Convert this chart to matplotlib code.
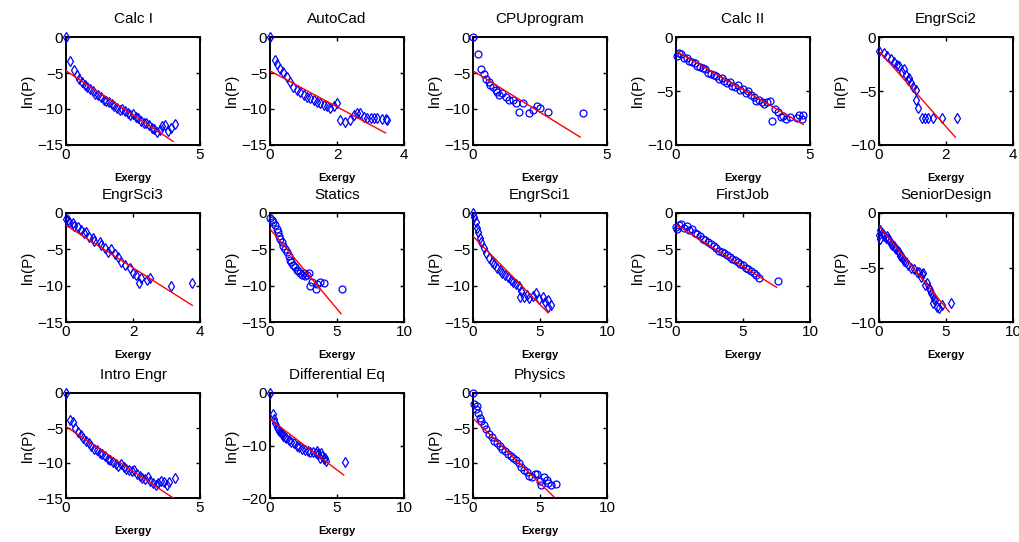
import matplotlib
matplotlib.use("Agg")
import matplotlib.pyplot as plt
import numpy as np

plt.rcParams["font.family"] = ["Liberation Sans", "DejaVu Sans"]

titles = ["Calc I", "AutoCad", "CPUprogram", "Calc II", "EngrSci2",
          "EngrSci3", "Statics", "EngrSci1", "FirstJob", "SeniorDesign",
          "Intro Engr", "Differential Eq", "Physics"]

calc1_x = [0.0, 0.15, 0.3, 0.4, 0.5, 0.6, 0.7, 0.8, 0.9, 1.0, 1.1, 1.2, 1.3, 1.4, 1.5, 1.6,
           1.7, 1.8, 1.9, 2.0, 2.1, 2.2, 2.3, 2.4, 2.5, 2.6, 2.7, 2.8, 2.9, 3.0, 3.1, 3.2,
           3.3, 3.4, 3.5, 3.6, 3.7, 3.8, 3.9, 4.05]
calc1_y = [0.0, -3.3, -4.6, -5.3, -5.8, -6.2, -6.6, -7.0, -7.2, -7.5, -7.9, -8.1, -8.4, -8.7,
           -8.9, -9.0, -9.3, -9.6, -9.8, -10.1, -10.0, -10.3, -10.6, -10.8, -10.7, -11.1,
           -11.3, -11.6, -12.0, -11.9, -12.2, -12.6, -12.8, -13.2, -12.9, -12.4, -12.2,
           -13.1, -12.7, -12.1]

autocad_x = [0.0, 0.16, 0.2, 0.3, 0.4, 0.5, 0.6, 0.7, 0.8, 0.9, 1.0, 1.1, 1.2, 1.3, 1.4, 1.5,
             1.6, 1.7, 1.8, 1.9, 2.0, 2.1, 2.25, 2.4, 2.5, 2.6, 2.7, 2.8, 2.9, 3.0, 3.1, 3.2,
             3.35, 3.45, 3.5]
autocad_y = [0.0, -3.2, -3.7, -4.4, -4.8, -5.5, -6.2, -6.9, -7.4, -7.6, -8.1, -8.3, -8.5,
             -8.8, -9.0, -9.2, -9.4, -9.6, -9.8, -9.6, -9.2, -11.5, -11.8, -11.5, -10.8,
             -10.6, -10.5, -11.1, -11.3, -11.3, -11.3, -11.3, -11.4, -11.4, -11.5]

cpu_x = [0.0, 0.18, 0.3, 0.4, 0.5, 0.6, 0.65, 0.75, 0.85, 0.9, 0.98, 1.1, 1.23, 1.36, 1.5,
         1.6, 1.7, 1.87, 2.1, 2.25, 2.37, 2.5, 2.8, 4.1]
cpu_y = [0.0, -2.3, -4.4, -5.1, -5.8, -6.2, -6.7, -6.9, -7.3, -7.6, -8.1, -7.8, -8.3, -8.8,
         -8.8, -9.2, -10.4, -9.2, -10.6, -10.1, -9.6, -9.8, -10.4, -10.6]

calc2_x = [0.05, 0.1, 0.2, 0.3, 0.4, 0.5, 0.6, 0.7, 0.8, 0.9, 1.0, 1.1, 1.2, 1.3, 1.4, 1.5,
           1.6, 1.7, 1.8, 1.9, 2.0, 2.1, 2.2, 2.3, 2.4, 2.5, 2.6, 2.7, 2.8, 2.9, 3.0, 3.1,
           3.2, 3.3, 3.4, 3.5, 3.6, 3.7, 3.8, 3.9, 4.0, 4.1, 4.25, 4.5, 4.6, 4.7, 4.75]
calc2_y = [-1.8, -1.5, -1.6, -1.9, -1.9, -2.2, -2.3, -2.4, -2.7, -2.8, -2.9, -3.0, -3.3,
           -3.4, -3.5, -3.6, -3.9, -3.8, -4.1, -4.3, -4.2, -4.5, -4.6, -4.4, -4.9, -4.8,
           -5.2, -5.0, -5.4, -5.6, -5.9, -5.8, -6.0, -6.2, -6.0, -5.9, -7.8, -6.7, -6.9,
           -7.4, -7.3, -7.6, -7.4, -7.5, -7.2, -7.6, -7.2]

es2_x = [0.0, 0.15, 0.25, 0.35, 0.45, 0.53, 0.6, 0.7, 0.75, 0.8, 0.86, 0.9, 0.96, 1.0, 1.1,
         1.1, 1.16, 1.27, 1.37, 1.47, 1.6, 1.87, 2.33]
es2_y = [-1.3, -1.5, -1.8, -2.0, -2.3, -2.6, -2.7, -3.2, -3.0, -3.5, -4.0, -3.8, -4.3, -4.6,
         -4.9, -5.8, -6.6, -7.5, -7.5, -7.5, -7.5, -7.5, -7.5]

es3_x = [0.0, 0.05, 0.1, 0.2, 0.25, 0.35, 0.45, 0.55, 0.6, 0.7, 0.8, 0.85, 1.0, 1.05, 1.15,
         1.25, 1.35, 1.45, 1.55, 1.65, 1.75, 1.9, 2.0, 2.1, 2.18, 2.25, 2.43, 2.5, 3.13, 3.77]
es3_y = [-0.8, -1.0, -1.2, -1.4, -1.8, -1.9, -2.3, -2.8, -2.6, -3.3, -3.5, -3.8, -4.0, -4.4,
         -4.8, -5.4, -5.0, -5.6, -6.1, -6.8, -7.1, -7.6, -8.2, -8.6, -9.6, -9.0, -9.2, -8.9,
         -10.1, -9.6]

statics_x = [0.0, 0.12, 0.25, 0.37, 0.5, 0.6, 0.7, 0.75, 0.9, 1.0, 1.1, 1.25, 1.4, 1.5, 1.6,
             1.75, 1.9, 2.0, 2.1, 2.25, 2.4, 2.5, 2.6, 2.75, 2.9, 3.0, 3.1, 3.4, 3.5, 3.75,
             4.0, 5.4]
statics_y = [-0.7, -1.0, -1.3, -1.7, -2.2, -2.6, -3.1, -3.6, -4.0, -4.5, -5.0, -5.4, -5.9,
             -6.4, -6.8, -7.1, -7.4, -7.8, -8.0, -8.2, -8.5, -8.2, -8.7, -8.5, -8.2, -10.0,
             -9.5, -10.5, -9.8, -9.5, -9.7, -10.5]

es1_x = [0.0, 0.1, 0.2, 0.3, 0.35, 0.5, 0.6, 0.8, 1.0, 1.2, 1.4, 1.6, 1.8, 2.0, 2.2, 2.4,
         2.6, 2.8, 3.0, 3.2, 3.4, 3.6, 3.5, 3.8, 4.0, 4.2, 4.5, 4.7, 4.9, 5.2, 5.4, 5.6, 5.8,
         5.6]
es1_y = [0.0, -0.5, -1.2, -2.0, -2.6, -3.5, -4.0, -4.8, -5.5, -6.2, -6.7, -7.0, -7.5, -7.9,
         -8.2, -8.5, -8.8, -9.2, -9.5, -9.8, -10.0, -10.8, -11.5, -11.6, -11.3, -11.7,
         -11.4, -11.0, -11.8, -11.6, -12.3, -12.0, -12.6, -12.9]

job_x = [0.0, 0.1, 0.2, 0.4, 0.6, 0.8, 1.0, 1.2, 1.4, 1.6, 1.8, 2.0, 2.2, 2.4, 2.6, 2.8, 3.0,
         3.2, 3.4, 3.6, 3.8, 4.0, 4.2, 4.4, 4.6, 4.8, 5.0, 5.2, 5.4, 5.6, 5.8, 6.0, 6.2, 7.6]
job_y = [-1.9, -2.2, -1.6, -1.5, -2.0, -1.8, -2.4, -2.2, -2.7, -2.9, -3.1, -3.6, -3.7, -4.0,
         -4.3, -4.6, -4.8, -5.2, -5.4, -5.5, -5.8, -6.0, -6.3, -6.5, -6.8, -7.0, -7.2, -7.5,
         -7.7, -8.0, -8.3, -8.6, -9.0, -9.3]

senior_x = [0.0, 0.05, 0.1, 0.2, 0.3, 0.4, 0.5, 0.6, 0.7, 0.8, 0.9, 1.0, 1.1, 1.2, 1.3, 1.4,
            1.5, 1.6, 1.7, 1.8, 1.9, 2.0, 2.2, 2.4, 2.6, 2.8, 3.0, 3.2, 3.3, 3.1, 3.4, 3.6,
            3.7, 3.8, 3.9, 4.0, 4.1, 4.2, 4.0, 4.3, 4.5, 4.7, 5.4]
senior_y = [-2.0, -2.4, -1.6, -1.8, -1.9, -2.1, -2.3, -2.1, -2.4, -2.6, -2.8, -2.9, -3.0,
            -3.2, -3.3, -3.5, -3.6, -3.9, -4.0, -4.2, -4.4, -4.5, -4.8, -5.0, -5.1, -5.4,
            -5.4, -5.6, -5.5, -5.9, -6.6, -6.4, -6.9, -7.1, -7.3, -7.6, -7.9, -8.0, -8.3,
            -8.6, -8.7, -8.4, -8.3]

intro_x = [0.0, 0.15, 0.25, 0.35, 0.45, 0.55, 0.65, 0.75, 0.85, 0.95, 1.05, 1.15, 1.25,
           1.35, 1.45, 1.55, 1.65, 1.75, 1.85, 1.95, 2.05, 2.15, 2.25, 2.35, 2.45, 2.55,
           2.65, 2.75, 2.85, 2.95, 3.05, 3.15, 3.25, 3.35, 3.45, 3.55, 3.65, 3.75, 3.85, 4.05]
intro_y = [0.0, -3.8, -4.2, -5.0, -5.5, -6.0, -6.4, -6.8, -7.1, -7.6, -8.0, -8.2, -8.5,
           -8.7, -9.0, -9.4, -9.6, -9.9, -10.1, -10.4, -10.2, -10.6, -10.8, -11.0, -11.2,
           -11.0, -11.5, -11.8, -12.1, -12.3, -12.0, -12.5, -12.8, -13.1, -12.9, -12.6,
           -12.7, -13.2, -12.7, -12.2]

diffeq_x = [0.0, 0.2, 0.3, 0.4, 0.5, 0.6, 0.7, 0.8, 0.9, 1.0, 1.1, 1.2, 1.4, 1.6, 1.8, 2.0,
            2.2, 2.4, 2.6, 2.8, 3.0, 3.2, 3.4, 3.5, 3.6, 3.7, 3.8, 3.9, 4.0, 4.1, 4.2, 5.6]
diffeq_y = [0.0, -4.0, -5.0, -5.8, -6.4, -6.8, -7.2, -7.5, -7.9, -8.2, -8.4, -8.6, -9.0,
            -9.3, -9.6, -10.0, -10.3, -10.6, -10.8, -11.0, -11.3, -11.2, -11.5, -11.0, -11.6,
            -12.3, -11.4, -12.0, -12.6, -12.4, -13.0, -13.2]

physics_x = [0.0, 0.1, 0.2, 0.3, 0.4, 0.5, 0.6, 0.8, 1.0, 1.2, 1.4, 1.6, 1.8, 2.0, 2.2, 2.4,
             2.6, 2.8, 3.0, 3.2, 3.4, 3.6, 3.8, 4.0, 4.2, 4.4, 4.6, 4.8, 5.0, 5.1, 5.3, 5.5,
             5.6, 5.8, 6.2]
physics_y = [0.0, -1.5, -2.3, -1.8, -2.8, -3.5, -4.0, -4.6, -5.2, -5.8, -6.3, -6.8, -7.2,
             -7.6, -8.0, -8.3, -8.7, -9.0, -9.3, -9.6, -10.0, -10.5, -11.0, -11.3, -11.8,
             -12.0, -11.5, -11.6, -12.6, -13.2, -12.0, -12.4, -12.9, -13.2, -13.0]

xs = [calc1_x, autocad_x, cpu_x, calc2_x, es2_x, es3_x, statics_x, es1_x, job_x,
      senior_x, intro_x, diffeq_x, physics_x]
ys = [calc1_y, autocad_y, cpu_y, calc2_y, es2_y, es3_y, statics_y, es1_y, job_y,
      senior_y, intro_y, diffeq_y, physics_y]

# linear fit of ln(P) vs exergy: intercept, slope, and where the fitted segment ends
fit_intercept = [-4.7, -4.7, -4.7, -1.3, -1.3, -1.7, -2.2, -3.2, -1.6, -1.2, -4.8, -5.0, -3.6]
fit_slope = [-2.45, -2.5, -2.3, -1.43, -3.5, -2.92, -2.2, -1.88, -1.15, -1.5, -2.55, -1.93, -1.86]
fit_x_end = [4.0, 3.45, 4.0, 4.75, 2.28, 3.77, 5.3, 5.6, 7.5, 5.25, 4.05, 5.5, 6.05]

x_limits = [5, 4, 5, 5, 4, 4, 10, 10, 10, 10, 5, 10, 10]
y_limits = [-15, -15, -15, -10, -10, -15, -15, -15, -15, -10, -15, -20, -15]
markers = ["d", "d", "o", "o", "d", "d", "o", "d", "o", "d", "d", "d", "o"]

col_left = [66, 270, 473, 676, 879]
row_top = [37, 213, 393]
row_h = [108, 109, 105]
ax_w = 134
W, H = 1020, 542

fig = plt.figure(figsize=(W / 100, H / 100), dpi=100)

for i, name in enumerate(titles):
    r, c = divmod(i, 5)
    left = col_left[c] / W
    bottom = (H - row_top[r] - row_h[r]) / H
    ax = fig.add_axes([left, bottom, ax_w / W, row_h[r] / H])
    ax.plot(xs[i], ys[i], linestyle="none", marker=markers[i], markersize=5,
            markerfacecolor="none", markeredgecolor="blue", markeredgewidth=0.9,
            clip_on=False, zorder=3)
    x0 = min(xs[i])
    xf = np.array([x0, fit_x_end[i]])
    ax.plot(xf, fit_intercept[i] + fit_slope[i] * xf, color="red", linewidth=1.0, zorder=4)
    ax.set_xlim(0, x_limits[i])
    ax.set_ylim(y_limits[i], 0)
    if x_limits[i] == 5:
        ax.set_xticks([0, 5])
    elif x_limits[i] == 4:
        ax.set_xticks([0, 2, 4])
    else:
        ax.set_xticks([0, 5, 10])
    step = 5 if y_limits[i] != -20 else 10
    ax.set_yticks(np.arange(y_limits[i], 0.1, step))
    ax.tick_params(direction="in", top=True, right=True, length=3, width=1,
                   labelsize=11, pad=2)
    for s in ax.spines.values():
        s.set_linewidth(1.4)
    ax.set_title(name, fontsize=11, pad=10)
    ax.set_ylabel("ln(P)", fontsize=11, labelpad=2)
    ax.set_xlabel("Exergy", fontsize=8, fontweight="bold", labelpad=8)

fig.savefig("out.png", dpi=100)
